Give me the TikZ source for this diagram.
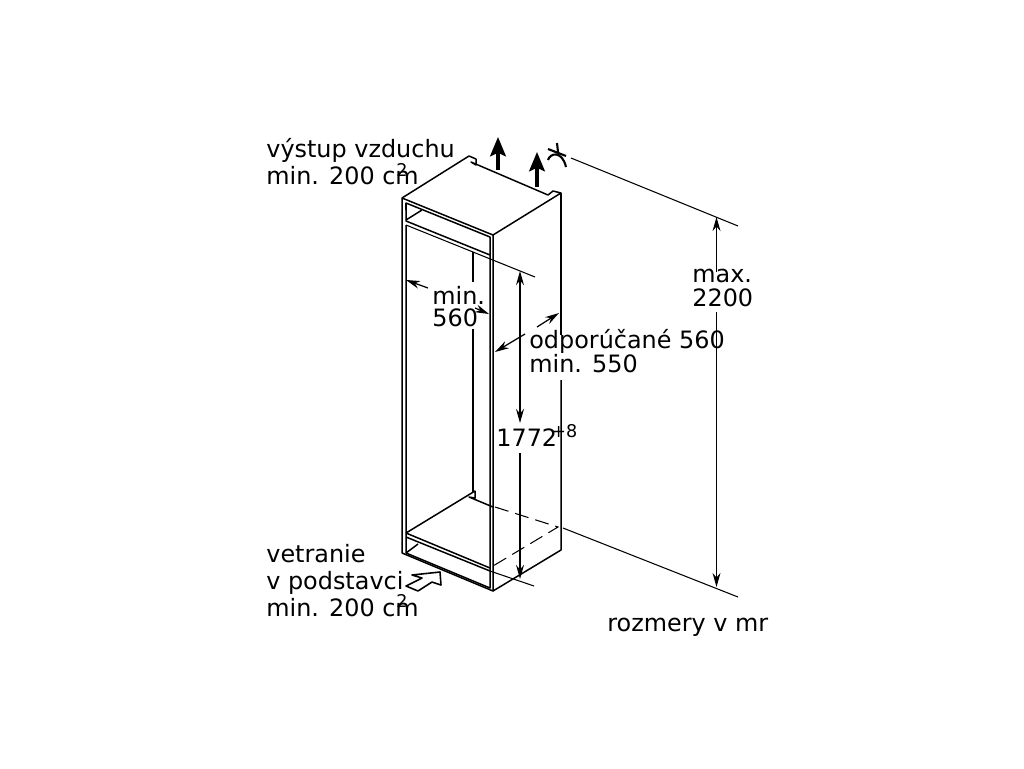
\documentclass[tikz,border=0pt]{standalone}
\usepackage{fontspec}
\setmainfont{DejaVu Sans}
\usetikzlibrary{arrows.meta}
\tikzset{
  lbl/.style={anchor=base west,inner sep=0pt,font=\fontsize{13.6}{16}\selectfont},
  sup/.style={anchor=base west,inner sep=0pt,font=\fontsize{10}{12}\selectfont},
  wall/.style={line width=0.85pt,line join=round},
  dimline/.style={line width=0.6pt},
  dimarrow/.style={line width=0.7pt,-{Stealth[length=8pt,width=4.5pt]}},
  airarrow/.style={line width=1.8pt,-{Stealth[length=11pt,width=9pt,inset=2pt]}}
}
\begin{document}
\begin{tikzpicture}[x=0.02cm,y=-0.02cm]
\useasboundingbox (0,0) rectangle (1024,768);
% cabinet corners
\coordinate (ftl) at (402,198);
\coordinate (fbl) at (402,553);
\coordinate (ftr) at (493,235);
\coordinate (fbr) at (493,591);
\coordinate (btl) at (469,156);
\coordinate (btr) at (561,193);
\coordinate (bbr) at (561,550);
% top
\draw[wall] (fbl) -- (ftl) -- (btl) -- (476,159) -- (476,165) -- (471,162) -- (548,195) -- (553,191) -- (btr) -- (ftr) -- (fbr) -- (fbl);
\draw[wall] (ftl) -- (ftr);
\draw[wall] (btr) -- (561,335);
\draw[wall] (561,380) -- (bbr) -- (fbr);
% inner front frame
\draw[wall] (406,203) -- (490,237) -- (490,255) -- (406,221) -- cycle;
\draw[wall] (406,210) -- (406,203);
\draw[wall] (422,210) -- (406,220);
\draw[wall] (406,225) -- (406,553) -- (490,588) -- (490,255);
\draw[wall] (406,533) -- (490,568);
\draw[wall] (406,537) -- (490,571);
\draw[wall] (406,553) -- (418,544);
% back edge of the opening
\draw[dimline] (473,252) -- (473,282);
\draw[dimline] (473,329) -- (473,492);
\draw[wall] (406,533) -- (475,491) -- (475,498) -- (469,497) -- (493,507);
% hidden edges
\draw[dimline,dashed,dash pattern=on 8pt off 4pt] (495,507) -- (558,527) -- (493,566);
% dimension lines
\draw[dimline] (406,225) -- (535,277);
\draw[dimline] (490,571) -- (534,586);
\draw[dimline] (571,158) -- (738,226);
\draw[dimline] (563,528) -- (738,597);
\draw[dimarrow,<->,>={Stealth[length=8pt,width=4.5pt]}] (520,271) -- (520,423);
\draw[dimarrow] (520,453) -- (520,579);
\draw[dimarrow] (716.5,272) -- (716.5,217);
\draw[dimarrow] (716.5,312) -- (716.5,587);
\draw[dimarrow] (428,288) -- (406,280);
\draw[dimarrow] (475,308) -- (489,314);
\draw[dimarrow] (525,334) -- (495,352);
\draw[dimarrow] (537,327) -- (559,313);
% air flow
\draw[airarrow] (498,170) -- (498,137);
\draw[airarrow] (537,187) -- (537,152);
\draw[line width=0.9pt,line join=round] (440,572) -- (412,575) -- (422,578) -- (406,586) -- (418,591) -- (432,582) -- (441,585) -- cycle;
% niche symbol
\draw[line width=1.2pt] (548,149) -- (566,156);
\draw[line width=1.2pt] (557,143) -- (558,152);
\draw[line width=1.2pt] (548,160) .. controls (550,153) and (562,150) .. (566,167);
% labels
\node[lbl] (airout) at (266,157) {výstup vzduchu};
\node[lbl] (airoutmin) at (266,184) {min. 200 cm};
\node[sup] (airoutsq) at (396,176) {2};
\node[lbl] (vent) at (266,562) {vetranie};
\node[lbl] (ventplinth) at (266,589) {v podstavci};
\node[lbl] (ventmin) at (266,616) {min. 200 cm};
\node[sup] (ventsq) at (396,607) {2};
\node[lbl] (widtha) at (432,304) {min.};
\node[lbl] (widthb) at (432,326) {560};
\node[lbl] (deptha) at (529,348) {odporúčané 560};
\node[lbl] (depthb) at (529,372) {min. 550};
\node[lbl] (height) at (496,446) {1772};
\node[sup] (heighttol) at (551,437) {+8};
\node[lbl] (maxa) at (692,282) {max.};
\node[lbl] (maxb) at (692,306) {2200};
\node[lbl] (units) at (607,631) {rozmery v mr};
\end{tikzpicture}
\end{document}
